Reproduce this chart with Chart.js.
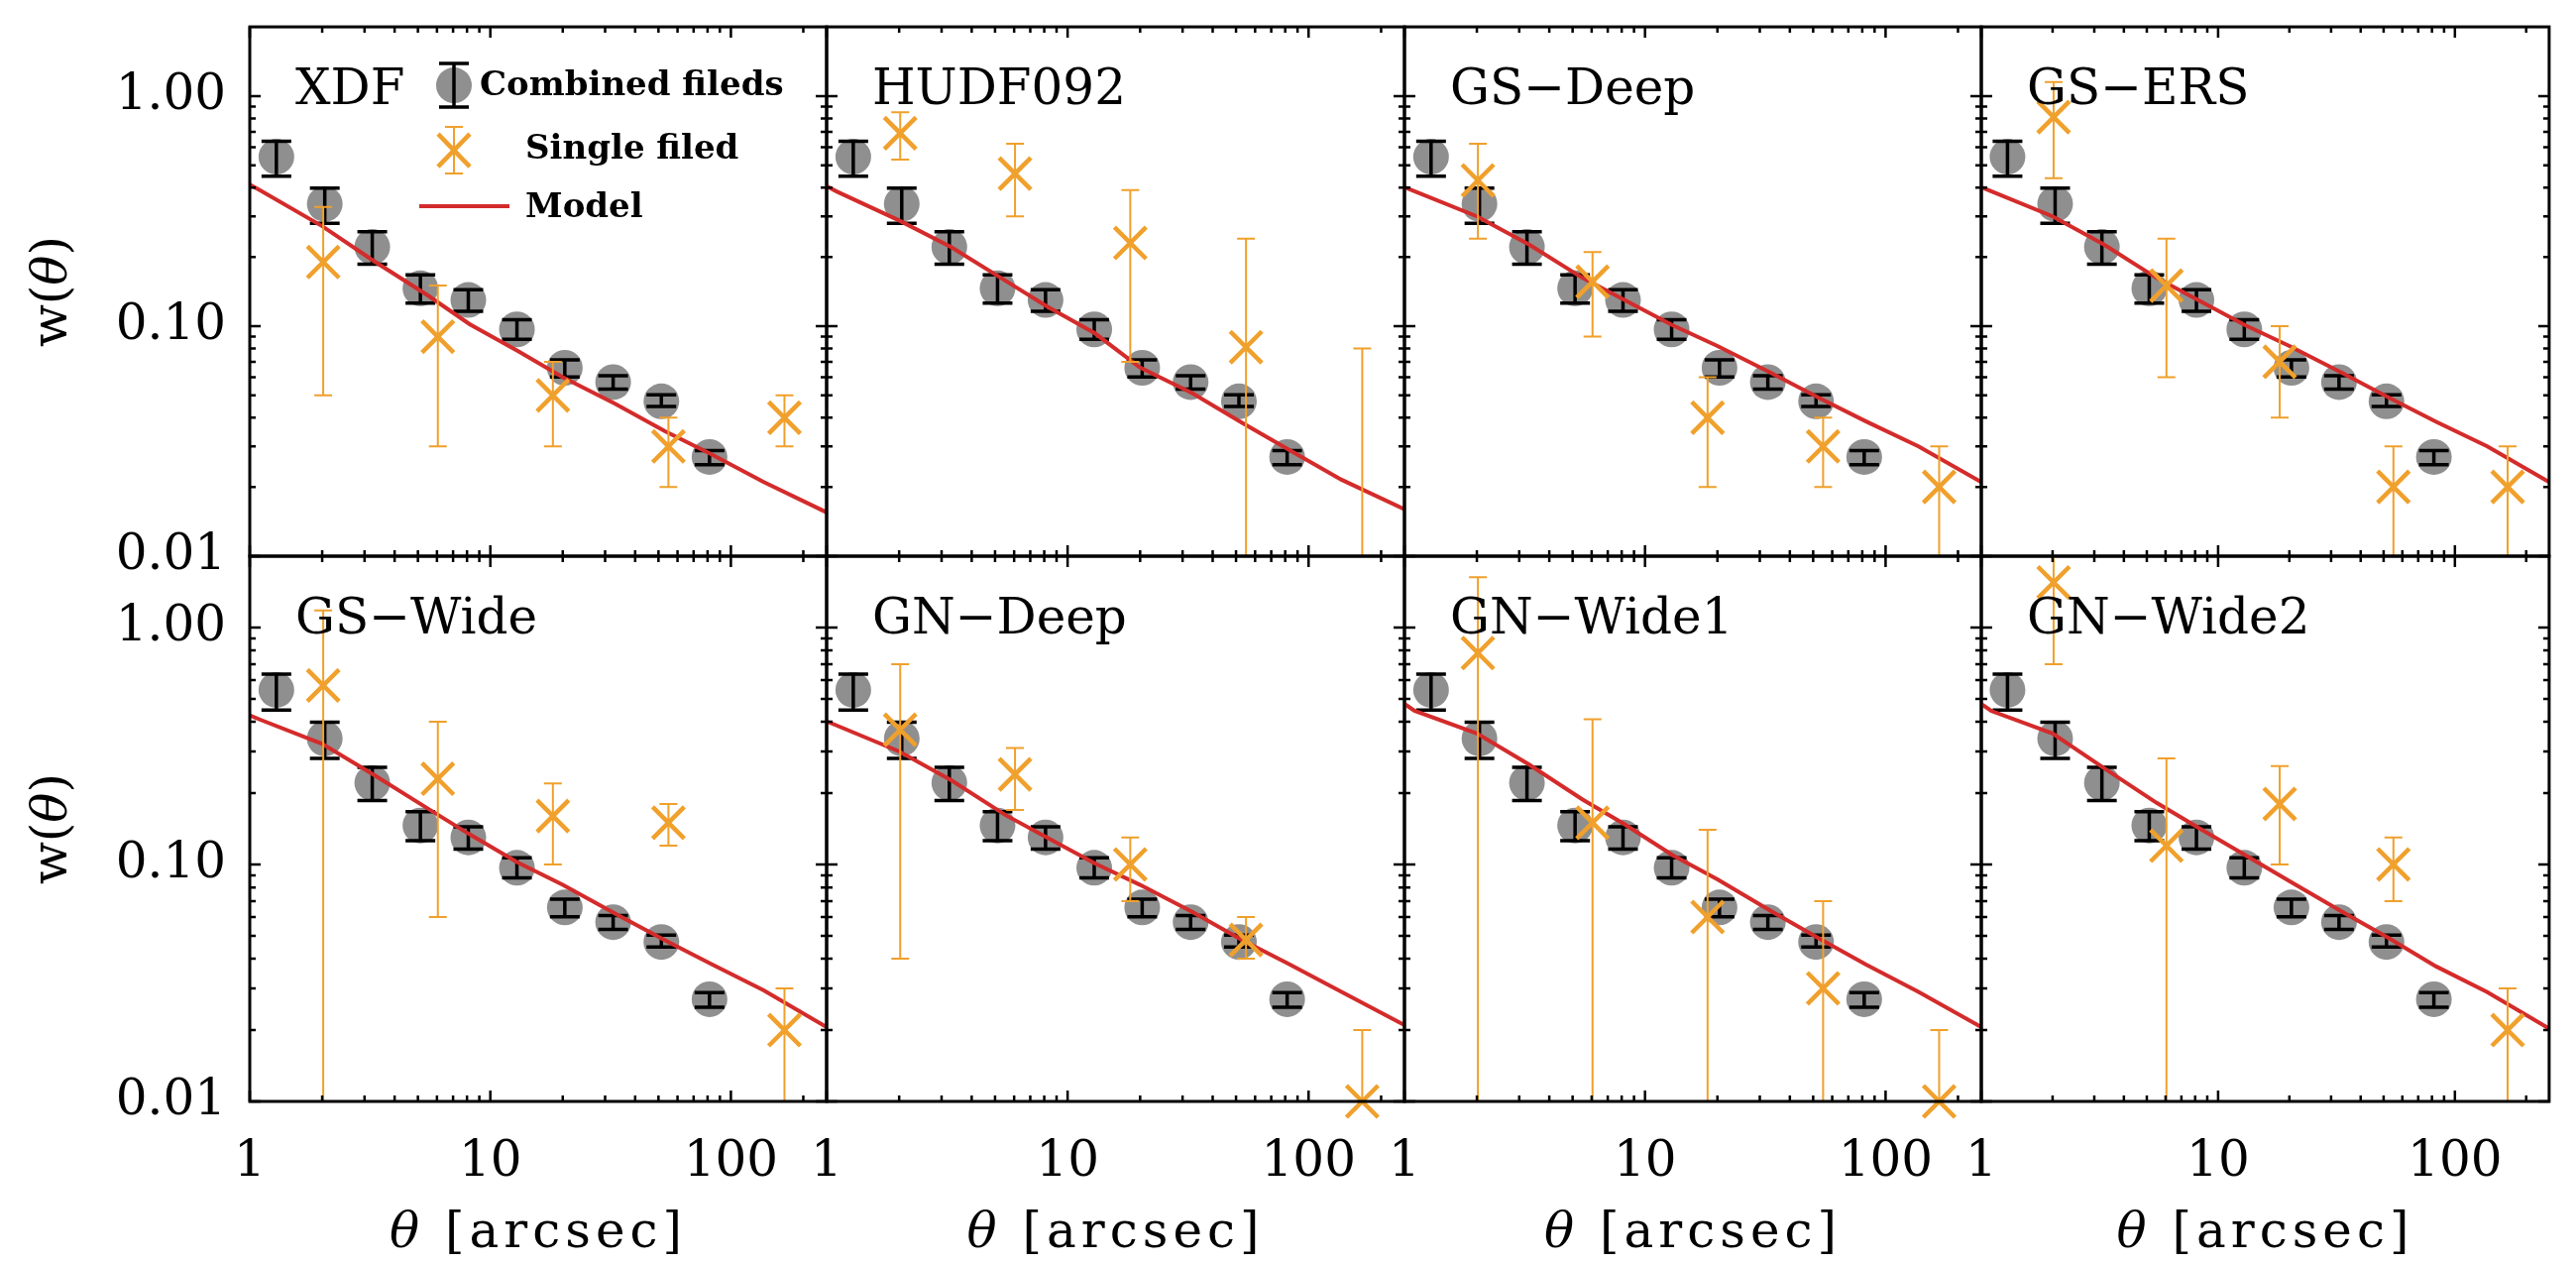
<!DOCTYPE html>
<html>
<head>
<meta charset="utf-8">
<script src="https://cdn.jsdelivr.net/npm/chart.js@4.4.1/dist/chart.umd.min.js"></script>
<style>
    body { margin: 0; background: #fff; }
    #wrap { position: relative; width: 2599px; height: 1275px; overflow: hidden; background: #fff; }
    #wrap canvas { position: absolute; }
</style>
</head>
<body>
<div id="wrap"></div>
<script>
// ── Dados ────────────────────────────────────────────────────────────────────

const FIELD_NAMES = ['XDF', 'HUDF092', 'GS\u2212Deep', 'GS\u2212ERS',
                     'GS\u2212Wide', 'GN\u2212Deep', 'GN\u2212Wide1', 'GN\u2212Wide2'];

// combined fields (igual em todos os painéis)
const COMB_THETA = [1.29, 2.05, 3.23, 5.12, 8.1, 12.9, 20.4, 32.4, 51.4, 81.5];
const COMB_W     = [0.545, 0.340, 0.221, 0.146, 0.130, 0.0968, 0.0659, 0.0571, 0.0471, 0.0270];
const COMB_HI    = [0.636, 0.398, 0.257, 0.167, 0.144, 0.1066, 0.0713, 0.0609, 0.0503, 0.0288];
const COMB_LO    = [0.448, 0.280, 0.186, 0.126, 0.116, 0.0877, 0.0601, 0.0532, 0.0448, 0.0250];

// single field, um vetor por painel (0.001 = barra desce abaixo do eixo)
const SINGLE_THETA = [2.02, 6.05, 18.2, 55, 167];
const SINGLE_W = [
    [0.19, 0.09, 0.05, 0.03, 0.04],
    [0.69, 0.46, 0.23, 0.081, null],
    [0.43, 0.156, 0.04, 0.03, 0.02],
    [0.81, 0.15, 0.07, 0.02, 0.02],
    [0.57, 0.23, 0.16, 0.15, 0.02],
    [0.37, 0.24, 0.10, 0.048, 0.01],
    [0.78, 0.15, 0.06, 0.03, 0.01],
    [1.55, 0.12, 0.18, 0.10, 0.02],
];
const SINGLE_HI = [
    [0.33, 0.15, 0.07, 0.04, 0.05],
    [0.85, 0.62, 0.39, 0.24, 0.08],
    [0.62, 0.21, 0.06, 0.04, 0.03],
    [1.15, 0.24, 0.10, 0.03, 0.03],
    [1.18, 0.40, 0.22, 0.18, 0.03],
    [0.70, 0.31, 0.13, 0.06, 0.02],
    [1.63, 0.41, 0.14, 0.07, 0.02],
    [3.00, 0.28, 0.26, 0.13, 0.03],
];
const SINGLE_LO = [
    [0.05, 0.03, 0.03, 0.02, 0.03],
    [0.53, 0.30, 0.07, 0.001, 0.001],
    [0.24, 0.09, 0.02, 0.02, 0.001],
    [0.44, 0.06, 0.04, 0.001, 0.001],
    [0.001, 0.06, 0.10, 0.12, 0.001],
    [0.04, 0.17, 0.07, 0.04, 0.001],
    [0.001, 0.001, 0.001, 0.001, 0.001],
    [0.70, 0.001, 0.10, 0.07, 0.001],
];

// modelo
const MODEL_THETA = [1, 1.1, 2, 3.3, 5.5, 8.2, 13, 20, 33, 53, 83, 137, 250];
const MODEL_W = [
    [0.412, 0.390, 0.272, 0.191, 0.136, 0.102, 0.078, 0.060, 0.046, 0.035, 0.0277, 0.021, 0.0155],
    [0.406, 0.385, 0.288, 0.220, 0.158, 0.122, 0.093, 0.066, 0.051, 0.038, 0.029, 0.0215, 0.016],
    [0.402, 0.386, 0.300, 0.226, 0.162, 0.130, 0.101, 0.082, 0.063, 0.0487, 0.0385, 0.030, 0.021],
    [0.402, 0.386, 0.300, 0.226, 0.162, 0.130, 0.101, 0.082, 0.063, 0.0487, 0.0385, 0.030, 0.021],
    [0.426, 0.409, 0.323, 0.238, 0.172, 0.134, 0.102, 0.082, 0.062, 0.048, 0.038, 0.0294, 0.0206],
    [0.402, 0.386, 0.300, 0.226, 0.162, 0.130, 0.101, 0.082, 0.063, 0.048, 0.038, 0.029, 0.021],
    [0.476, 0.445, 0.357, 0.264, 0.188, 0.148, 0.1095, 0.0865, 0.064, 0.0487, 0.0378, 0.029, 0.0206],
    [0.476, 0.445, 0.357, 0.255, 0.182, 0.1435, 0.1095, 0.085, 0.0636, 0.0487, 0.0372, 0.0289, 0.0203],
];

// eixos
const X_MIN = 1, X_MAX = 250;
const Y_MIN = 0.01, Y_MAX = 2;
const X_MAJOR = [1, 10, 100];
const X_MINOR = [2, 3, 4, 5, 6, 7, 8, 9, 20, 30, 40, 50, 60, 70, 80, 90, 200];
const Y_MAJOR = [0.01, 0.1, 1];
const Y_MINOR = [0.02, 0.03, 0.04, 0.05, 0.06, 0.07, 0.08, 0.09, 0.2, 0.3, 0.4, 0.5, 0.6, 0.7, 0.8, 0.9];
const Y_LABELS = { 0.01: '0.01', 0.1: '0.10', 1: '1.00' };

// ── Estilo / layout ──────────────────────────────────────────────────────────

const GRAY = '#8f8f8f';
const ORANGE = '#f0a02c';
const RED = '#d42b2b';
const SERIF = "'DejaVu Serif', serif";

const COL_EDGES = [252, 834, 1417, 1999, 2582];
const ROW_EDGES = [11, 561, 1111];
const MARGIN = 40;
const W = 2599, H = 1275;

// ── Plugins ──────────────────────────────────────────────────────────────────

function drawErr(chart, err) {
    const { ctx, chartArea: a, scales: { x, y } } = chart;
    ctx.save();
    ctx.beginPath();
    ctx.rect(a.left, a.top, a.right - a.left, a.bottom - a.top);
    ctx.clip();
    ctx.strokeStyle = err.color;
    ctx.lineWidth = err.width;
    err.hi.forEach((hi, i) => {
        if (hi == null) return;
        const px = x.getPixelForValue(err.x[i]);
        const ph = y.getPixelForValue(hi);
        const pl = y.getPixelForValue(err.lo[i]);
        ctx.beginPath();
        ctx.moveTo(px, ph); ctx.lineTo(px, pl);
        ctx.moveTo(px - err.cap, ph); ctx.lineTo(px + err.cap, ph);
        ctx.moveTo(px - err.cap, pl); ctx.lineTo(px + err.cap, pl);
        ctx.stroke();
    });
    ctx.restore();
}

const errorBars = {
    id: 'errorBars',
    beforeDatasetDraw(chart, args) {
        const ds = chart.data.datasets[args.index];
        if (ds.err && !ds.err.onTop) drawErr(chart, ds.err);
    },
    afterDatasetDraw(chart, args) {
        const ds = chart.data.datasets[args.index];
        if (ds.err && ds.err.onTop) drawErr(chart, ds.err);
    },
};

function textParts(ctx, parts, cx, cy, rotate) {
    ctx.save();
    ctx.translate(cx, cy);
    if (rotate) ctx.rotate(-Math.PI / 2);
    ctx.textBaseline = 'middle';
    ctx.textAlign = 'left';
    let total = 0;
    parts.forEach(p => { ctx.font = p.font; total += ctx.measureText(p.text).width; });
    let xx = -total / 2;
    parts.forEach(p => {
        ctx.font = p.font;
        ctx.fillText(p.text, xx, 0);
        xx += ctx.measureText(p.text).width;
    });
    ctx.restore();
}

const panelDecor = {
    id: 'panelDecor',
    afterDraw(chart, args, opts) {
        const { ctx, chartArea: a, scales: { x, y } } = chart;
        ctx.save();

        // moldura + ticks internos (estilo IDL)
        ctx.strokeStyle = '#000';
        ctx.lineWidth = 3;
        ctx.strokeRect(a.left, a.top, a.right - a.left, a.bottom - a.top);
        ctx.lineWidth = 2.5;
        ctx.beginPath();
        X_MAJOR.concat(X_MINOR).forEach(v => {
            const len = X_MAJOR.includes(v) ? 11 : 6;
            const px = x.getPixelForValue(v);
            ctx.moveTo(px, a.bottom); ctx.lineTo(px, a.bottom - len);
            ctx.moveTo(px, a.top); ctx.lineTo(px, a.top + len);
        });
        Y_MAJOR.concat(Y_MINOR).forEach(v => {
            const len = Y_MAJOR.includes(v) ? 11 : 6;
            const py = y.getPixelForValue(v);
            ctx.moveTo(a.left, py); ctx.lineTo(a.left + len, py);
            ctx.moveTo(a.right, py); ctx.lineTo(a.right - len, py);
        });
        ctx.stroke();

        // nome do campo
        ctx.fillStyle = '#000';
        ctx.font = `50px ${SERIF}`;
        ctx.textBaseline = 'alphabetic';
        ctx.textAlign = 'left';
        ctx.fillText(opts.name, a.left + 46, a.top + 78);

        // legenda (só no primeiro painel)
        if (opts.legend) {
            const lx = a.left + 206;
            ctx.fillStyle = GRAY;
            ctx.beginPath();
            ctx.arc(lx, a.top + 59, 18, 0, 2 * Math.PI);
            ctx.fill();
            ctx.strokeStyle = '#000';
            ctx.lineWidth = 3.5;
            ctx.beginPath();
            ctx.moveTo(lx, a.top + 37); ctx.lineTo(lx, a.top + 81);
            ctx.moveTo(lx - 15, a.top + 37); ctx.lineTo(lx + 15, a.top + 37);
            ctx.moveTo(lx - 15, a.top + 81); ctx.lineTo(lx + 15, a.top + 81);
            ctx.stroke();

            ctx.strokeStyle = ORANGE;
            ctx.lineWidth = 2;
            ctx.beginPath();
            ctx.moveTo(lx, a.top + 101); ctx.lineTo(lx, a.top + 148);
            ctx.moveTo(lx - 9, a.top + 101); ctx.lineTo(lx + 9, a.top + 101);
            ctx.moveTo(lx - 9, a.top + 148); ctx.lineTo(lx + 9, a.top + 148);
            ctx.stroke();
            ctx.lineWidth = 4.5;
            ctx.beginPath();
            ctx.moveTo(lx - 16, a.top + 108); ctx.lineTo(lx + 16, a.top + 141);
            ctx.moveTo(lx + 16, a.top + 108); ctx.lineTo(lx - 16, a.top + 141);
            ctx.stroke();

            ctx.strokeStyle = RED;
            ctx.lineWidth = 4;
            ctx.beginPath();
            ctx.moveTo(a.left + 171, a.top + 181); ctx.lineTo(a.left + 262, a.top + 181);
            ctx.stroke();

            ctx.fillStyle = '#000';
            ctx.font = `bold 34px ${SERIF}`;
            ctx.textBaseline = 'middle';
            ctx.fillText('Combined fileds', a.left + 232, a.top + 60);
            ctx.fillText('Single filed', a.left + 278, a.top + 124);
            ctx.fillText('Model', a.left + 278, a.top + 183);
        }

        ctx.fillStyle = '#000';
        if (opts.yTitle) {
            textParts(ctx, [
                { text: 'w(', font: `50px ${SERIF}` },
                { text: '\u03b8', font: `italic 50px ${SERIF}` },
                { text: ')', font: `50px ${SERIF}` },
            ], a.left - 198, (a.top + a.bottom) / 2, true);
        }
        if (opts.xTitle) {
            ctx.letterSpacing = '5px';
            textParts(ctx, [
                { text: '\u03b8', font: `italic 50px ${SERIF}` },
                { text: ' [arcsec]', font: `50px ${SERIF}` },
            ], (a.left + a.right) / 2, a.bottom + 134, false);
            ctx.letterSpacing = '0px';
        }
        ctx.restore();
    },
};

// ── Montagem dos painéis ────────────────────────────────────────────────────

const pts = (xs, ys) => xs.map((v, i) => ({ x: v, y: ys[i] }));
const wrap = document.getElementById('wrap');

FIELD_NAMES.forEach((name, k) => {
    const c = k % 4, r = Math.floor(k / 4);
    const x0 = COL_EDGES[c], x1 = COL_EDGES[c + 1];
    const y0 = ROW_EDGES[r], y1 = ROW_EDGES[r + 1];
    const cl = c === 0 ? 0 : x0 - MARGIN;
    const cr = Math.min(W, x1 + MARGIN);
    const ct = r === 0 ? 0 : y0 - MARGIN;
    const cb = r === 0 ? y1 + MARGIN : H;

    const canvas = document.createElement('canvas');
    canvas.width = cr - cl;
    canvas.height = cb - ct;
    canvas.style.left = cl + 'px';
    canvas.style.top = ct + 'px';
    canvas.style.width = (cr - cl) + 'px';
    canvas.style.height = (cb - ct) + 'px';
    wrap.appendChild(canvas);

    const showY = c === 0;
    const showX = r === 1;

    new Chart(canvas, {
        type: 'scatter',
        data: {
            datasets: [
                {
                    label: 'Combined fileds',
                    data: pts(COMB_THETA, COMB_W),
                    pointStyle: 'circle',
                    pointRadius: 18,
                    backgroundColor: GRAY,
                    borderWidth: 0,
                    clip: false,
                    order: 3,
                    err: { x: COMB_THETA, hi: COMB_HI, lo: COMB_LO, color: '#000', width: 3.5, cap: 15, onTop: true },
                },
                {
                    label: 'Model',
                    data: pts(MODEL_THETA, MODEL_W[k]),
                    showLine: true,
                    borderColor: RED,
                    borderWidth: 4,
                    pointRadius: 0,
                    tension: 0,
                    order: 2,
                },
                {
                    label: 'Single filed',
                    data: pts(SINGLE_THETA, SINGLE_W[k]),
                    pointStyle: 'crossRot',
                    pointRadius: 22.6,
                    borderColor: ORANGE,
                    backgroundColor: ORANGE,
                    borderWidth: 4.5,
                    clip: false,
                    order: 1,
                    err: { x: SINGLE_THETA, hi: SINGLE_HI[k], lo: SINGLE_LO[k], color: ORANGE, width: 2, cap: 9, onTop: false },
                },
            ],
        },
        options: {
            responsive: false,
            animation: false,
            devicePixelRatio: 1,
            events: [],
            layout: {
                padding: {
                    left: showY ? 0 : x0 - cl,
                    right: cr - x1,
                    top: y0 - ct,
                    bottom: showX ? 0 : cb - y1,
                },
            },
            plugins: {
                legend: { display: false },
                tooltip: { enabled: false },
                panelDecor: { name, legend: k === 0, yTitle: showY, xTitle: showX },
            },
            scales: {
                x: {
                    type: 'logarithmic',
                    min: X_MIN,
                    max: X_MAX,
                    display: showX,
                    grid: { display: false, drawTicks: false },
                    border: { display: false },
                    ticks: {
                        color: '#000',
                        font: { family: SERIF, size: 50 },
                        padding: 32,
                        maxRotation: 0,
                        autoSkip: false,
                        callback: v => String(v),
                    },
                    afterBuildTicks: s => { s.ticks = X_MAJOR.map(v => ({ value: v })); },
                    afterFit: s => {
                        if (!showX) return;
                        s.height = H - ROW_EDGES[2];
                        s.paddingLeft = 0;
                        s.paddingRight = 0;
                    },
                },
                y: {
                    type: 'logarithmic',
                    min: Y_MIN,
                    max: Y_MAX,
                    display: showY,
                    grid: { display: false, drawTicks: false },
                    border: { display: false },
                    ticks: {
                        color: '#000',
                        font: { family: SERIF, size: 50 },
                        padding: 24,
                        autoSkip: false,
                        callback: v => Y_LABELS[v] || '',
                    },
                    afterBuildTicks: s => { s.ticks = Y_MAJOR.map(v => ({ value: v })); },
                    afterFit: s => {
                        if (!showY) return;
                        s.width = COL_EDGES[0];
                        s.paddingTop = 0;
                        s.paddingBottom = 0;
                    },
                },
            },
        },
        plugins: [errorBars, panelDecor],
    });
});
</script>
</body>
</html>
